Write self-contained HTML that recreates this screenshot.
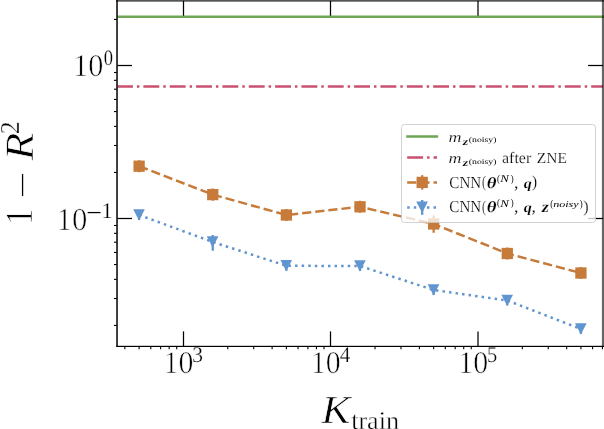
<!DOCTYPE html>
<html><head><meta charset="utf-8"><title>1 - R^2 vs K_train</title>
<style>
html,body{margin:0;padding:0;background:#fff;}
body{width:604px;height:429px;overflow:hidden;font-family:"Liberation Serif",serif;}
svg{display:block;will-change:transform;}
svg text{text-rendering:geometricPrecision;}
.t{filter:grayscale(1);}
</style></head><body>
<svg width="604" height="429" viewBox="0 0 604 429" font-family='"Liberation Serif", serif'>
<rect width="604" height="429" fill="#fff"/>
<defs><clipPath id="ax"><rect x="117.05" y="0.85" width="485.95" height="345.45"/></clipPath><clipPath id="ax2"><rect x="117.05" y="0.85" width="486.95" height="345.45"/></clipPath></defs>
<g class="t">
<text transform="matrix(0.15114 0 0 0.15852 73.031 76.383)" font-size="200" fill="#000" stroke="#fff" stroke-width="3.88" stroke-linejoin="round">10</text>
<text transform="matrix(0.09233 0 0 0.11067 103.734 64.899)" font-size="200" fill="#000" stroke="#fff" stroke-width="2.37" stroke-linejoin="round">0</text>
<text transform="matrix(0.15284 0 0 0.16000 56.602 229.580)" font-size="200" fill="#000" stroke="#fff" stroke-width="3.84" stroke-linejoin="round">10</text>
<text transform="matrix(0.13895 0 0 0.12727 86.249 220.664)" font-size="200" fill="#000">−</text>
<text transform="matrix(0.11042 0 0 0.11091 101.603 218.120)" font-size="200" fill="#000" stroke="#fff" stroke-width="2.17" stroke-linejoin="round">1</text>
<text transform="matrix(0.14943 0 0 0.15778 163.460 372.884)" font-size="200" fill="#000" stroke="#fff" stroke-width="3.91" stroke-linejoin="round">10</text>
<text transform="matrix(0.14943 0 0 0.15778 310.760 372.884)" font-size="200" fill="#000" stroke="#fff" stroke-width="3.91" stroke-linejoin="round">10</text>
<text transform="matrix(0.14943 0 0 0.15778 458.260 372.884)" font-size="200" fill="#000" stroke="#fff" stroke-width="3.91" stroke-linejoin="round">10</text>
<text transform="matrix(0.10762 0 0 0.11224 192.311 361.896)" font-size="200" fill="#000" stroke="#fff" stroke-width="2.18" stroke-linejoin="round">3</text>
<text transform="matrix(0.10574 0 0 0.11091 339.763 361.720)" font-size="200" fill="#000" stroke="#fff" stroke-width="2.22" stroke-linejoin="round">4</text>
<text transform="matrix(0.10293 0 0 0.11308 486.948 361.894)" font-size="200" fill="#000" stroke="#fff" stroke-width="2.22" stroke-linejoin="round">5</text>
<text transform="matrix(0.21559 0 0 0.19969 321.517 423.430)" font-size="200" fill="#000" stroke="#fff" stroke-width="3.18" stroke-linejoin="round" font-style="italic">K</text>
<text transform="matrix(0.13048 0 0 0.12815 351.170 429.144)" font-size="200" fill="#000" stroke="#fff" stroke-width="3.09" stroke-linejoin="round">train</text>
</g>
<g class="t"><g transform="rotate(-90)">
<text transform="matrix(0.16901 0 0 0.19470 -225.023 32.150)" font-size="200" fill="#000" stroke="#fff" stroke-width="3.86" stroke-linejoin="round">1</text>
<text transform="matrix(0.23789 0 0 0.12727 -198.541 30.764)" font-size="200" fill="#000">−</text>
<text transform="matrix(0.22810 0 0 0.20076 -160.394 32.849)" font-size="200" fill="#000" stroke="#fff" stroke-width="3.27" stroke-linejoin="round" font-style="italic">R</text>
<text transform="matrix(0.12963 0 0 0.13636 -134.237 18.800)" font-size="200" fill="#000" stroke="#fff" stroke-width="3.01" stroke-linejoin="round">2</text>
</g></g>
<line x1="117.05" x2="604" y1="16.75" y2="16.75" stroke="#6ea655" stroke-width="2.5"/>
<g clip-path="url(#ax)" fill="none">
<line x1="117.05" x2="603.0" y1="86.6" y2="86.6" stroke="#c9506f" stroke-width="2.5" stroke-dasharray="15.90 3.98 2.48 3.98"/>
<polyline points="139.12,166.20 212.75,194.60 286.39,215.00 360.02,206.80 433.66,223.95 507.29,253.50 580.93,273.00" stroke="#c67b3a" stroke-width="2.5" stroke-dasharray="9.19 3.98"/>
<polyline points="139.12,215.00 212.75,242.00 286.39,265.80 360.02,266.00 433.66,290.00 507.29,300.50 580.93,329.00" stroke="#6095cf" stroke-width="2.5" stroke-dasharray="2.48 4.10"/>
<line x1="139.12" x2="139.12" y1="160.14999999999998" y2="172.25" stroke="#c67b3a" stroke-width="2.3"/>
<line x1="212.75" x2="212.75" y1="188.54999999999998" y2="200.65" stroke="#c67b3a" stroke-width="2.3"/>
<line x1="286.39" x2="286.39" y1="208.95" y2="221.05" stroke="#c67b3a" stroke-width="2.3"/>
<line x1="360.02" x2="360.02" y1="200.75" y2="212.85000000000002" stroke="#c67b3a" stroke-width="2.3"/>
<line x1="433.66" x2="433.66" y1="215.6" y2="232.7" stroke="#c67b3a" stroke-width="2.3"/>
<line x1="507.29" x2="507.29" y1="247.45" y2="259.55" stroke="#c67b3a" stroke-width="2.3"/>
<line x1="580.93" x2="580.93" y1="266.95" y2="279.05" stroke="#c67b3a" stroke-width="2.3"/>
<line x1="139.12" x2="139.12" y1="210.0" y2="220.0" stroke="#6095cf" stroke-width="2.3"/>
<line x1="212.75" x2="212.75" y1="235.0" y2="250.8" stroke="#6095cf" stroke-width="2.3"/>
<line x1="286.39" x2="286.39" y1="260.8" y2="270.8" stroke="#6095cf" stroke-width="2.3"/>
<line x1="360.02" x2="360.02" y1="261.0" y2="271.0" stroke="#6095cf" stroke-width="2.3"/>
<line x1="433.66" x2="433.66" y1="285.0" y2="295.0" stroke="#6095cf" stroke-width="2.3"/>
<line x1="507.29" x2="507.29" y1="295.5" y2="305.5" stroke="#6095cf" stroke-width="2.3"/>
<line x1="580.93" x2="580.93" y1="324.0" y2="334.0" stroke="#6095cf" stroke-width="2.3"/>
<rect x="133.47" y="160.55" width="11.3" height="11.3" fill="#c67b3a"/>
<rect x="207.10" y="188.95" width="11.3" height="11.3" fill="#c67b3a"/>
<rect x="280.74" y="209.35" width="11.3" height="11.3" fill="#c67b3a"/>
<rect x="354.37" y="201.15" width="11.3" height="11.3" fill="#c67b3a"/>
<rect x="428.01" y="218.30" width="11.3" height="11.3" fill="#c67b3a"/>
<rect x="501.64" y="247.85" width="11.3" height="11.3" fill="#c67b3a"/>
<rect x="575.28" y="267.35" width="11.3" height="11.3" fill="#c67b3a"/>
<path d="M133.17 209.15H144.82L139.02 220.55Z" fill="#6095cf"/>
<path d="M206.80 236.15H218.45L212.65 247.55Z" fill="#6095cf"/>
<path d="M280.44 259.95H292.09L286.29 271.35Z" fill="#6095cf"/>
<path d="M354.07 260.15H365.72L359.92 271.55Z" fill="#6095cf"/>
<path d="M427.71 284.15H439.36L433.56 295.55Z" fill="#6095cf"/>
<path d="M501.34 294.65H512.99L507.19 306.05Z" fill="#6095cf"/>
<path d="M574.98 323.15H586.63L580.83 334.55Z" fill="#6095cf"/>
</g>
<g stroke="#000" fill="none">
<line x1="183.50" x2="183.50" y1="346.3" y2="331.40000000000003" stroke-width="1.25"/>
<line x1="183.50" x2="183.50" y1="0.85" y2="15.75" stroke-width="1.25"/>
<line x1="330.50" x2="330.50" y1="346.3" y2="331.40000000000003" stroke-width="1.25"/>
<line x1="330.50" x2="330.50" y1="0.85" y2="15.75" stroke-width="1.25"/>
<line x1="478.00" x2="478.00" y1="346.3" y2="331.40000000000003" stroke-width="1.25"/>
<line x1="478.00" x2="478.00" y1="0.85" y2="15.75" stroke-width="1.25"/>
<line x1="124.85" x2="124.85" y1="346.3" y2="349.35" stroke-width="1.1"/>
<line x1="139.12" x2="139.12" y1="346.3" y2="349.35" stroke-width="1.1"/>
<line x1="150.78" x2="150.78" y1="346.3" y2="349.35" stroke-width="1.1"/>
<line x1="160.64" x2="160.64" y1="346.3" y2="349.35" stroke-width="1.1"/>
<line x1="169.18" x2="169.18" y1="346.3" y2="349.35" stroke-width="1.1"/>
<line x1="176.71" x2="176.71" y1="346.3" y2="349.35" stroke-width="1.1"/>
<line x1="227.78" x2="227.78" y1="346.3" y2="349.35" stroke-width="1.1"/>
<line x1="253.72" x2="253.72" y1="346.3" y2="349.35" stroke-width="1.1"/>
<line x1="272.12" x2="272.12" y1="346.3" y2="349.35" stroke-width="1.1"/>
<line x1="286.39" x2="286.39" y1="346.3" y2="349.35" stroke-width="1.1"/>
<line x1="298.05" x2="298.05" y1="346.3" y2="349.35" stroke-width="1.1"/>
<line x1="307.91" x2="307.91" y1="346.3" y2="349.35" stroke-width="1.1"/>
<line x1="316.45" x2="316.45" y1="346.3" y2="349.35" stroke-width="1.1"/>
<line x1="323.98" x2="323.98" y1="346.3" y2="349.35" stroke-width="1.1"/>
<line x1="375.05" x2="375.05" y1="346.3" y2="349.35" stroke-width="1.1"/>
<line x1="400.99" x2="400.99" y1="346.3" y2="349.35" stroke-width="1.1"/>
<line x1="419.39" x2="419.39" y1="346.3" y2="349.35" stroke-width="1.1"/>
<line x1="433.66" x2="433.66" y1="346.3" y2="349.35" stroke-width="1.1"/>
<line x1="445.32" x2="445.32" y1="346.3" y2="349.35" stroke-width="1.1"/>
<line x1="455.18" x2="455.18" y1="346.3" y2="349.35" stroke-width="1.1"/>
<line x1="463.72" x2="463.72" y1="346.3" y2="349.35" stroke-width="1.1"/>
<line x1="471.25" x2="471.25" y1="346.3" y2="349.35" stroke-width="1.1"/>
<line x1="522.32" x2="522.32" y1="346.3" y2="349.35" stroke-width="1.1"/>
<line x1="548.26" x2="548.26" y1="346.3" y2="349.35" stroke-width="1.1"/>
<line x1="566.66" x2="566.66" y1="346.3" y2="349.35" stroke-width="1.1"/>
<line x1="580.93" x2="580.93" y1="346.3" y2="349.35" stroke-width="1.1"/>
<line x1="592.59" x2="592.59" y1="346.3" y2="349.35" stroke-width="1.1"/>
<line x1="602.45" x2="602.45" y1="346.3" y2="349.35" stroke-width="1.1"/>
<line x1="117.05" x2="131.95" y1="65.50" y2="65.50" stroke-width="1.25"/>
<line x1="603.0" x2="588.1" y1="65.50" y2="65.50" stroke-width="1.25"/>
<line x1="117.05" x2="131.95" y1="218.50" y2="218.50" stroke-width="1.25"/>
<line x1="603.0" x2="588.1" y1="218.50" y2="218.50" stroke-width="1.25"/>
<line x1="117.05" x2="114.0" y1="19.44" y2="19.44" stroke-width="1.1"/>
<line x1="117.05" x2="114.0" y1="172.44" y2="172.44" stroke-width="1.1"/>
<line x1="117.05" x2="114.0" y1="145.50" y2="145.50" stroke-width="1.1"/>
<line x1="117.05" x2="114.0" y1="126.38" y2="126.38" stroke-width="1.1"/>
<line x1="117.05" x2="114.0" y1="111.56" y2="111.56" stroke-width="1.1"/>
<line x1="117.05" x2="114.0" y1="99.44" y2="99.44" stroke-width="1.1"/>
<line x1="117.05" x2="114.0" y1="89.20" y2="89.20" stroke-width="1.1"/>
<line x1="117.05" x2="114.0" y1="80.33" y2="80.33" stroke-width="1.1"/>
<line x1="117.05" x2="114.0" y1="72.50" y2="72.50" stroke-width="1.1"/>
<line x1="117.05" x2="114.0" y1="325.44" y2="325.44" stroke-width="1.1"/>
<line x1="117.05" x2="114.0" y1="298.50" y2="298.50" stroke-width="1.1"/>
<line x1="117.05" x2="114.0" y1="279.38" y2="279.38" stroke-width="1.1"/>
<line x1="117.05" x2="114.0" y1="264.56" y2="264.56" stroke-width="1.1"/>
<line x1="117.05" x2="114.0" y1="252.44" y2="252.44" stroke-width="1.1"/>
<line x1="117.05" x2="114.0" y1="242.20" y2="242.20" stroke-width="1.1"/>
<line x1="117.05" x2="114.0" y1="233.33" y2="233.33" stroke-width="1.1"/>
<line x1="117.05" x2="114.0" y1="225.50" y2="225.50" stroke-width="1.1"/>
</g>
<rect x="116.2" y="0" width="1.65" height="347.0" fill="#1a1a1a"/>
<rect x="116.25" y="345.8" width="487.75" height="1.2" fill="#000"/>
<rect x="116.25" y="0" width="487.75" height="1.7" fill="#000" fill-opacity="0.67"/>
<rect x="601.9" y="0" width="2.1" height="347.0" fill="#000" fill-opacity="0.6"/>
<rect x="401.5" y="124.5" width="194.0" height="98.0" rx="3" ry="3" fill="#fff" fill-opacity="0.76" stroke="#c6c7cb" stroke-opacity="0.8" stroke-width="1"/>
<line x1="406.2" x2="438.2" y1="136.4" y2="136.4" stroke="#6ea655" stroke-width="2.5"/>
<line x1="407.2" x2="437.0" y1="157.6" y2="157.6" stroke="#c9506f" stroke-width="2.5" stroke-dasharray="15.90 3.98 2.48 3.98"/>
<line x1="407.2" x2="437.0" y1="182.4" y2="182.4" stroke="#c67b3a" stroke-width="2.5" stroke-dasharray="9.19 3.98"/>
<line x1="422.2" x2="422.2" y1="175.20000000000002" y2="189.6" stroke="#c67b3a" stroke-width="2.3"/>
<rect x="416.55" y="176.75" width="11.3" height="11.3" fill="#c67b3a"/>
<line x1="407.2" x2="437.0" y1="207.4" y2="207.4" stroke="#6095cf" stroke-width="2.5" stroke-dasharray="2.48 4.10"/>
<line x1="422.2" x2="422.2" y1="200.0" y2="214.8" stroke="#6095cf" stroke-width="2.3"/>
<path d="M416.25 201.55H427.90L422.10 212.95Z" fill="#6095cf"/>
<g class="t">
<text transform="matrix(0.09000 0 0 0.07368 448.470 141.900)" font-size="200" fill="#000" stroke="#fff" stroke-width="2.46" stroke-linejoin="round" font-style="italic">m</text>
<text transform="matrix(0.07143 0 0 0.05326 462.629 145.000)" font-size="200" fill="#000" stroke="#fff" stroke-width="3.24" stroke-linejoin="round" font-style="italic" font-weight="bold">z</text>
<text transform="matrix(0.04909 0 0 0.03736 468.707 142.293)" font-size="200" fill="#000">(noisy)</text>
<text transform="matrix(0.09000 0 0 0.07368 448.470 163.300)" font-size="200" fill="#000" stroke="#fff" stroke-width="2.46" stroke-linejoin="round" font-style="italic">m</text>
<text transform="matrix(0.07143 0 0 0.05326 462.629 166.400)" font-size="200" fill="#000" stroke="#fff" stroke-width="3.24" stroke-linejoin="round" font-style="italic" font-weight="bold">z</text>
<text transform="matrix(0.04909 0 0 0.03736 468.707 163.693)" font-size="200" fill="#000">(noisy)</text>
<text transform="matrix(0.07967 0 0 0.07887 502.042 162.642)" font-size="200" fill="#000" stroke="#fff" stroke-width="2.52" stroke-linejoin="round">after</text>
<text transform="matrix(0.07744 0 0 0.07710 536.803 162.600)" font-size="200" fill="#000" stroke="#fff" stroke-width="2.59" stroke-linejoin="round">ZNE</text>
<text transform="matrix(0.07564 0 0 0.08358 449.295 187.733)" font-size="200" fill="#000" stroke="#fff" stroke-width="2.52" stroke-linejoin="round">CNN</text>
<text transform="matrix(0.05849 0 0 0.08132 481.932 187.203)" font-size="200" fill="#000" stroke="#fff" stroke-width="2.90" stroke-linejoin="round">(</text>
<text transform="matrix(0.09362 0 0 0.07958 486.645 187.641)" font-size="200" fill="#000" stroke="#fff" stroke-width="2.32" stroke-linejoin="round" font-style="italic" font-weight="bold">θ</text>
<text transform="matrix(0.04340 0 0 0.05110 496.953 181.703)" font-size="200" fill="#000">(</text>
<text transform="matrix(0.06483 0 0 0.05038 500.330 182.200)" font-size="200" fill="#000" font-style="italic">N</text>
<text transform="matrix(0.04423 0 0 0.05110 510.635 181.703)" font-size="200" fill="#000">)</text>
<text transform="matrix(0.09032 0 0 0.08654 514.068 187.617)" font-size="200" fill="#000" stroke="#fff" stroke-width="2.26" stroke-linejoin="round">,</text>
<text transform="matrix(0.08065 0 0 0.07007 523.739 187.757)" font-size="200" fill="#000" stroke="#fff" stroke-width="2.66" stroke-linejoin="round" font-style="italic" font-weight="bold">q</text>
<text transform="matrix(0.07564 0 0 0.08358 449.295 212.233)" font-size="200" fill="#000" stroke="#fff" stroke-width="2.52" stroke-linejoin="round">CNN</text>
<text transform="matrix(0.05849 0 0 0.08132 481.932 211.703)" font-size="200" fill="#000" stroke="#fff" stroke-width="2.90" stroke-linejoin="round">(</text>
<text transform="matrix(0.09362 0 0 0.07958 486.645 212.141)" font-size="200" fill="#000" stroke="#fff" stroke-width="2.32" stroke-linejoin="round" font-style="italic" font-weight="bold">θ</text>
<text transform="matrix(0.04340 0 0 0.05110 496.953 206.203)" font-size="200" fill="#000">(</text>
<text transform="matrix(0.06483 0 0 0.05038 500.330 206.700)" font-size="200" fill="#000" font-style="italic">N</text>
<text transform="matrix(0.04423 0 0 0.05110 510.635 206.203)" font-size="200" fill="#000">)</text>
<text transform="matrix(0.09032 0 0 0.08654 514.068 212.117)" font-size="200" fill="#000" stroke="#fff" stroke-width="2.26" stroke-linejoin="round">,</text>
<text transform="matrix(0.08065 0 0 0.07007 523.739 212.257)" font-size="200" fill="#000" stroke="#fff" stroke-width="2.66" stroke-linejoin="round" font-style="italic" font-weight="bold">q</text>
<text transform="matrix(0.07692 0 0 0.08297 532.038 187.432)" font-size="200" fill="#000" stroke="#fff" stroke-width="2.50" stroke-linejoin="round">)</text>
<text transform="matrix(0.09032 0 0 0.08654 531.568 212.117)" font-size="200" fill="#000" stroke="#fff" stroke-width="2.26" stroke-linejoin="round">,</text>
<text transform="matrix(0.09405 0 0 0.08043 541.664 212.200)" font-size="200" fill="#000" stroke="#fff" stroke-width="2.30" stroke-linejoin="round" font-style="italic" font-weight="bold">z</text>
<text transform="matrix(0.04340 0 0 0.05110 550.153 206.903)" font-size="200" fill="#000">(</text>
<text transform="matrix(0.06018 0 0 0.04261 553.179 207.268)" font-size="200" fill="#000" font-style="italic">noisy</text>
<text transform="matrix(0.04423 0 0 0.05110 579.735 206.903)" font-size="200" fill="#000">)</text>
<text transform="matrix(0.08077 0 0 0.08297 583.215 212.032)" font-size="200" fill="#000" stroke="#fff" stroke-width="2.44" stroke-linejoin="round">)</text>
</g>
</svg>
</body></html>
